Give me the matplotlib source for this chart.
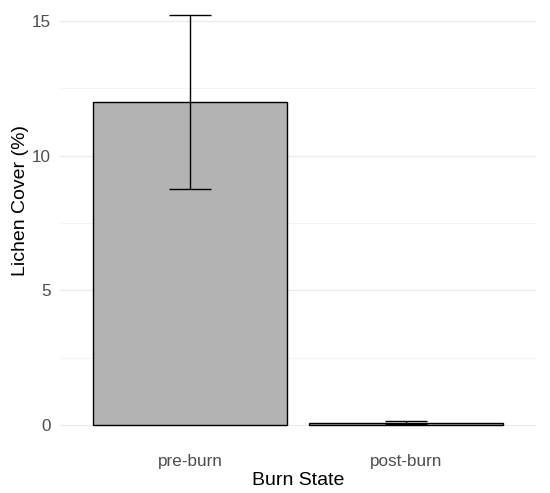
import matplotlib
matplotlib.use('Agg')
import matplotlib.pyplot as plt
import numpy as np

# data
burn_state = ['pre-burn', 'post-burn']
lichen_mean = [12.0, 0.08]
err_low = [8.77, 0.03]
err_high = [15.24, 0.14]

plt.rcParams['font.family'] = ['Liberation Sans', 'DejaVu Sans']

fig = plt.figure(figsize=(5.5, 4.93), dpi=100)
ax = fig.add_axes([0.1098, 0.0963, 0.864, 0.9037])

x = np.arange(len(burn_state))
mean = np.array(lichen_mean)
yerr = [mean - np.array(err_low), np.array(err_high) - mean]

ax.bar(x, mean, width=0.9, color='#B3B3B3', edgecolor='black', linewidth=1.0, zorder=2)
ax.errorbar(x, mean, yerr=yerr, fmt='none', ecolor='black', elinewidth=1.0,
            capsize=15, capthick=1.0, zorder=3)

ax.set_xlim(-0.6, 1.6)
ax.set_ylim(-0.762, 15.78)
ax.set_yticks([0, 5, 10, 15])
ax.set_yticks([2.5, 7.5, 12.5], minor=True)
ax.set_xticks(x)
ax.set_xticklabels(burn_state)

ax.grid(True, which='major', axis='y', color='#EBEBEB', linewidth=0.9, zorder=0)
ax.grid(True, which='minor', axis='y', color='#F2F2F2', linewidth=0.6, zorder=0)
ax.set_axisbelow(True)

for s in ax.spines.values():
    s.set_visible(False)

ax.tick_params(axis='both', which='both', length=0, labelsize=12.3, labelcolor='#4D4D4D')
ax.tick_params(axis='y', pad=7)
ax.tick_params(axis='x', pad=6)

ax.set_xlabel('Burn State', fontsize=14, color='black')
ax.set_ylabel('Lichen Cover (%)', fontsize=14, color='black')
ax.xaxis.set_label_coords(0.5, -0.06)
ax.yaxis.set_label_coords(-0.066, 0.55)

fig.savefig('out.png', dpi=100)
